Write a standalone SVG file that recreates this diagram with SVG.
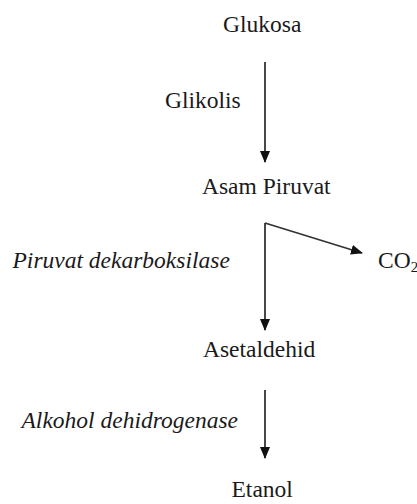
<svg xmlns="http://www.w3.org/2000/svg" width="417" height="504" viewBox="0 0 417 504">
<defs>
<style>
text{font-family:'Liberation Serif','Times New Roman',serif;font-size:23.5px;fill:#1a1a1a}
.i{font-style:italic}
.c{stroke:#333;stroke-width:1.8;fill:none}
</style>
<marker id="ah" markerWidth="12" markerHeight="10" refX="11" refY="5" orient="auto" markerUnits="userSpaceOnUse" viewBox="0 0 12 10">
<path d="M0,0 L12,5 L0,10 z" fill="#111"/>
</marker>
</defs>
<rect width="417" height="504" fill="#fff"/>
<g id="glukosa"><text x="223" y="31.5">Glukosa</text></g>
<g id="asam-piruvat"><text x="202" y="194">Asam Piruvat</text></g>
<g id="co2"><text x="378" y="268">CO<tspan font-size="15" dy="4">2</tspan></text></g>
<g id="asetaldehid"><text x="203" y="357">Asetaldehid</text></g>
<g id="etanol"><text x="231.5" y="496.5">Etanol</text></g>
<g id="labels">
<text x="165" y="108">Glikolis</text>
<text class="i" x="12.5" y="268">Piruvat dekarboksilase</text>
<text class="i" x="21.5" y="427.5">Alkohol dehidrogenase</text>
</g>
<g id="connectors">
<line class="c" x1="265" y1="62" x2="265" y2="162" marker-end="url(#ah)"/>
<line class="c" x1="265" y1="223" x2="265" y2="330" marker-end="url(#ah)"/>
<line class="c" x1="265" y1="223" x2="362" y2="253" marker-end="url(#ah)"/>
<line class="c" x1="265" y1="390" x2="265" y2="458" marker-end="url(#ah)"/>
</g>
</svg>
